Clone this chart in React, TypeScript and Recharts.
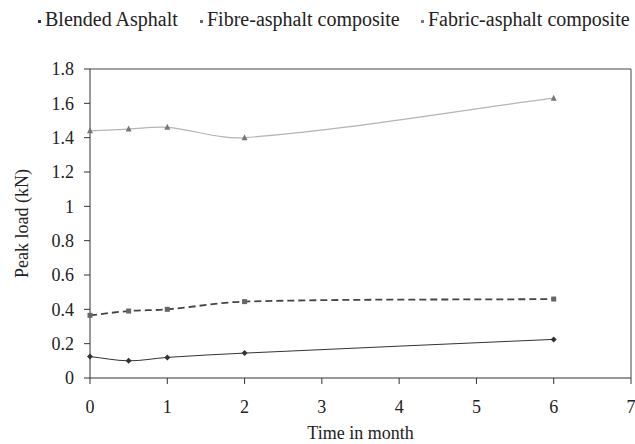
import React from "react";
import { Line, LineChart, ReferenceLine, XAxis, YAxis } from "recharts";

const months = [0, 0.5, 1, 2, 6];
const blendedAsphalt = [0.125, 0.1, 0.12, 0.145, 0.225];
const fibreComposite = [0.365, 0.39, 0.4, 0.445, 0.46];
const fabricComposite = [1.44, 1.45, 1.46, 1.4, 1.63];

const xTicks = [0, 1, 2, 3, 4, 5, 6, 7];
const yTicks = [0, 0.2, 0.4, 0.6, 0.8, 1, 1.2, 1.4, 1.6, 1.8];

const seriesNames = ["Blended Asphalt", "Fibre-asphalt composite", "Fabric-asphalt composite"];

const data = months.map((m, i) => ({
  month: m,
  blended: blendedAsphalt[i],
  fibre: fibreComposite[i],
  fabric: fabricComposite[i],
}));

const FONT = "Liberation Serif";

// smooth line: cubic hermite, tangent from neighbouring points scaled by x spacing
const smoothCurve = (context: any) => {
  let pts: number[][] = [];
  const slope = (i: number) => {
    const n = pts.length;
    const a = pts[Math.max(i - 1, 0)];
    const b = pts[Math.min(i + 1, n - 1)];
    const dx = b[0] - a[0];
    return dx ? (b[1] - a[1]) / dx : 0;
  };
  return {
    areaStart() {},
    areaEnd() {},
    lineStart() {
      pts = [];
    },
    point(x: number, y: number) {
      pts.push([+x, +y]);
    },
    lineEnd() {
      const n = pts.length;
      if (!n) return;
      context.moveTo(pts[0][0], pts[0][1]);
      for (let i = 0; i < n - 1; i++) {
        const p1 = pts[i];
        const p2 = pts[i + 1];
        const h = (p2[0] - p1[0]) / 3;
        const m1 = slope(i);
        const m2 = slope(i + 1);
        context.bezierCurveTo(p1[0] + h, p1[1] + m1 * h, p2[0] - h, p2[1] - m2 * h, p2[0], p2[1]);
      }
    },
  };
};

type DotProps = { cx?: number; cy?: number; index?: number };

const Diamond = ({ cx = 0, cy = 0, index }: DotProps) => (
  <path key={`d${index}`} d={`M${cx},${cy - 3}L${cx + 3},${cy}L${cx},${cy + 3}L${cx - 3},${cy}Z`} fill="#333" />
);
const Square = ({ cx = 0, cy = 0, index }: DotProps) => (
  <rect key={`s${index}`} x={cx - 2.5} y={cy - 2.5} width={5} height={5} fill="#666" />
);
const Triangle = ({ cx = 0, cy = 0, index }: DotProps) => (
  <path key={`t${index}`} d={`M${cx},${cy - 3.5}L${cx + 3},${cy + 2.5}L${cx - 3},${cy + 2.5}Z`} fill="#777" />
);

const legendMarks = ["#333", "#666", "#777"];
const legendLeft = [38, 200, 421];

export default function App() {
  return (
    <div style={{ position: "absolute", left: 0, top: 0, width: 635, height: 444, background: "#fff", fontFamily: FONT }}>
      {seriesNames.map((name, i) => (
        <div
          key={name}
          style={{ position: "absolute", left: legendLeft[i], top: 8, fontSize: 20, fontFamily: FONT, color: "#222", whiteSpace: "nowrap" }}
        >
          <span style={{ display: "inline-block", width: 3, height: 3, background: legendMarks[i], marginRight: 4, verticalAlign: "middle" }} />
          {name}
        </div>
      ))}
      <LineChart width={635} height={444} data={data} margin={{ top: 69, right: 4, bottom: 0, left: 0 }} style={{ fontFamily: FONT }}>
        <XAxis
          dataKey="month"
          type="number"
          domain={[0, 7]}
          ticks={xTicks}
          interval={0}
          height={66}
          tickSize={6}
          tickMargin={16}
          stroke="#333"
          tick={{ fill: "#222", fontSize: 18, fontFamily: FONT }}
          label={{ value: "Time in month", position: "insideBottom", offset: 5, fill: "#222", fontSize: 18, fontFamily: FONT }}
        />
        <YAxis
          type="number"
          domain={[0, 1.8]}
          ticks={yTicks}
          interval={0}
          width={90}
          tickSize={6}
          tickMargin={10}
          stroke="#333"
          tick={{ fill: "#222", fontSize: 18, fontFamily: FONT }}
          label={{ value: "Peak load (kN)", angle: -90, position: "insideLeft", offset: 22, fill: "#222", fontSize: 18, fontFamily: FONT, style: { textAnchor: "middle" } }}
        />
        <ReferenceLine y={1.8} stroke="#444" />
        <ReferenceLine x={7} stroke="#444" />
        <Line type={smoothCurve as any} dataKey="fabric" stroke="#b4b4b4" strokeWidth={1.2} dot={Triangle} isAnimationActive={false} />
        <Line type={smoothCurve as any} dataKey="fibre" stroke="#444" strokeWidth={1.8} strokeDasharray="7 4" dot={Square} isAnimationActive={false} />
        <Line type={smoothCurve as any} dataKey="blended" stroke="#333" strokeWidth={1} dot={Diamond} isAnimationActive={false} />
      </LineChart>
    </div>
  );
}
